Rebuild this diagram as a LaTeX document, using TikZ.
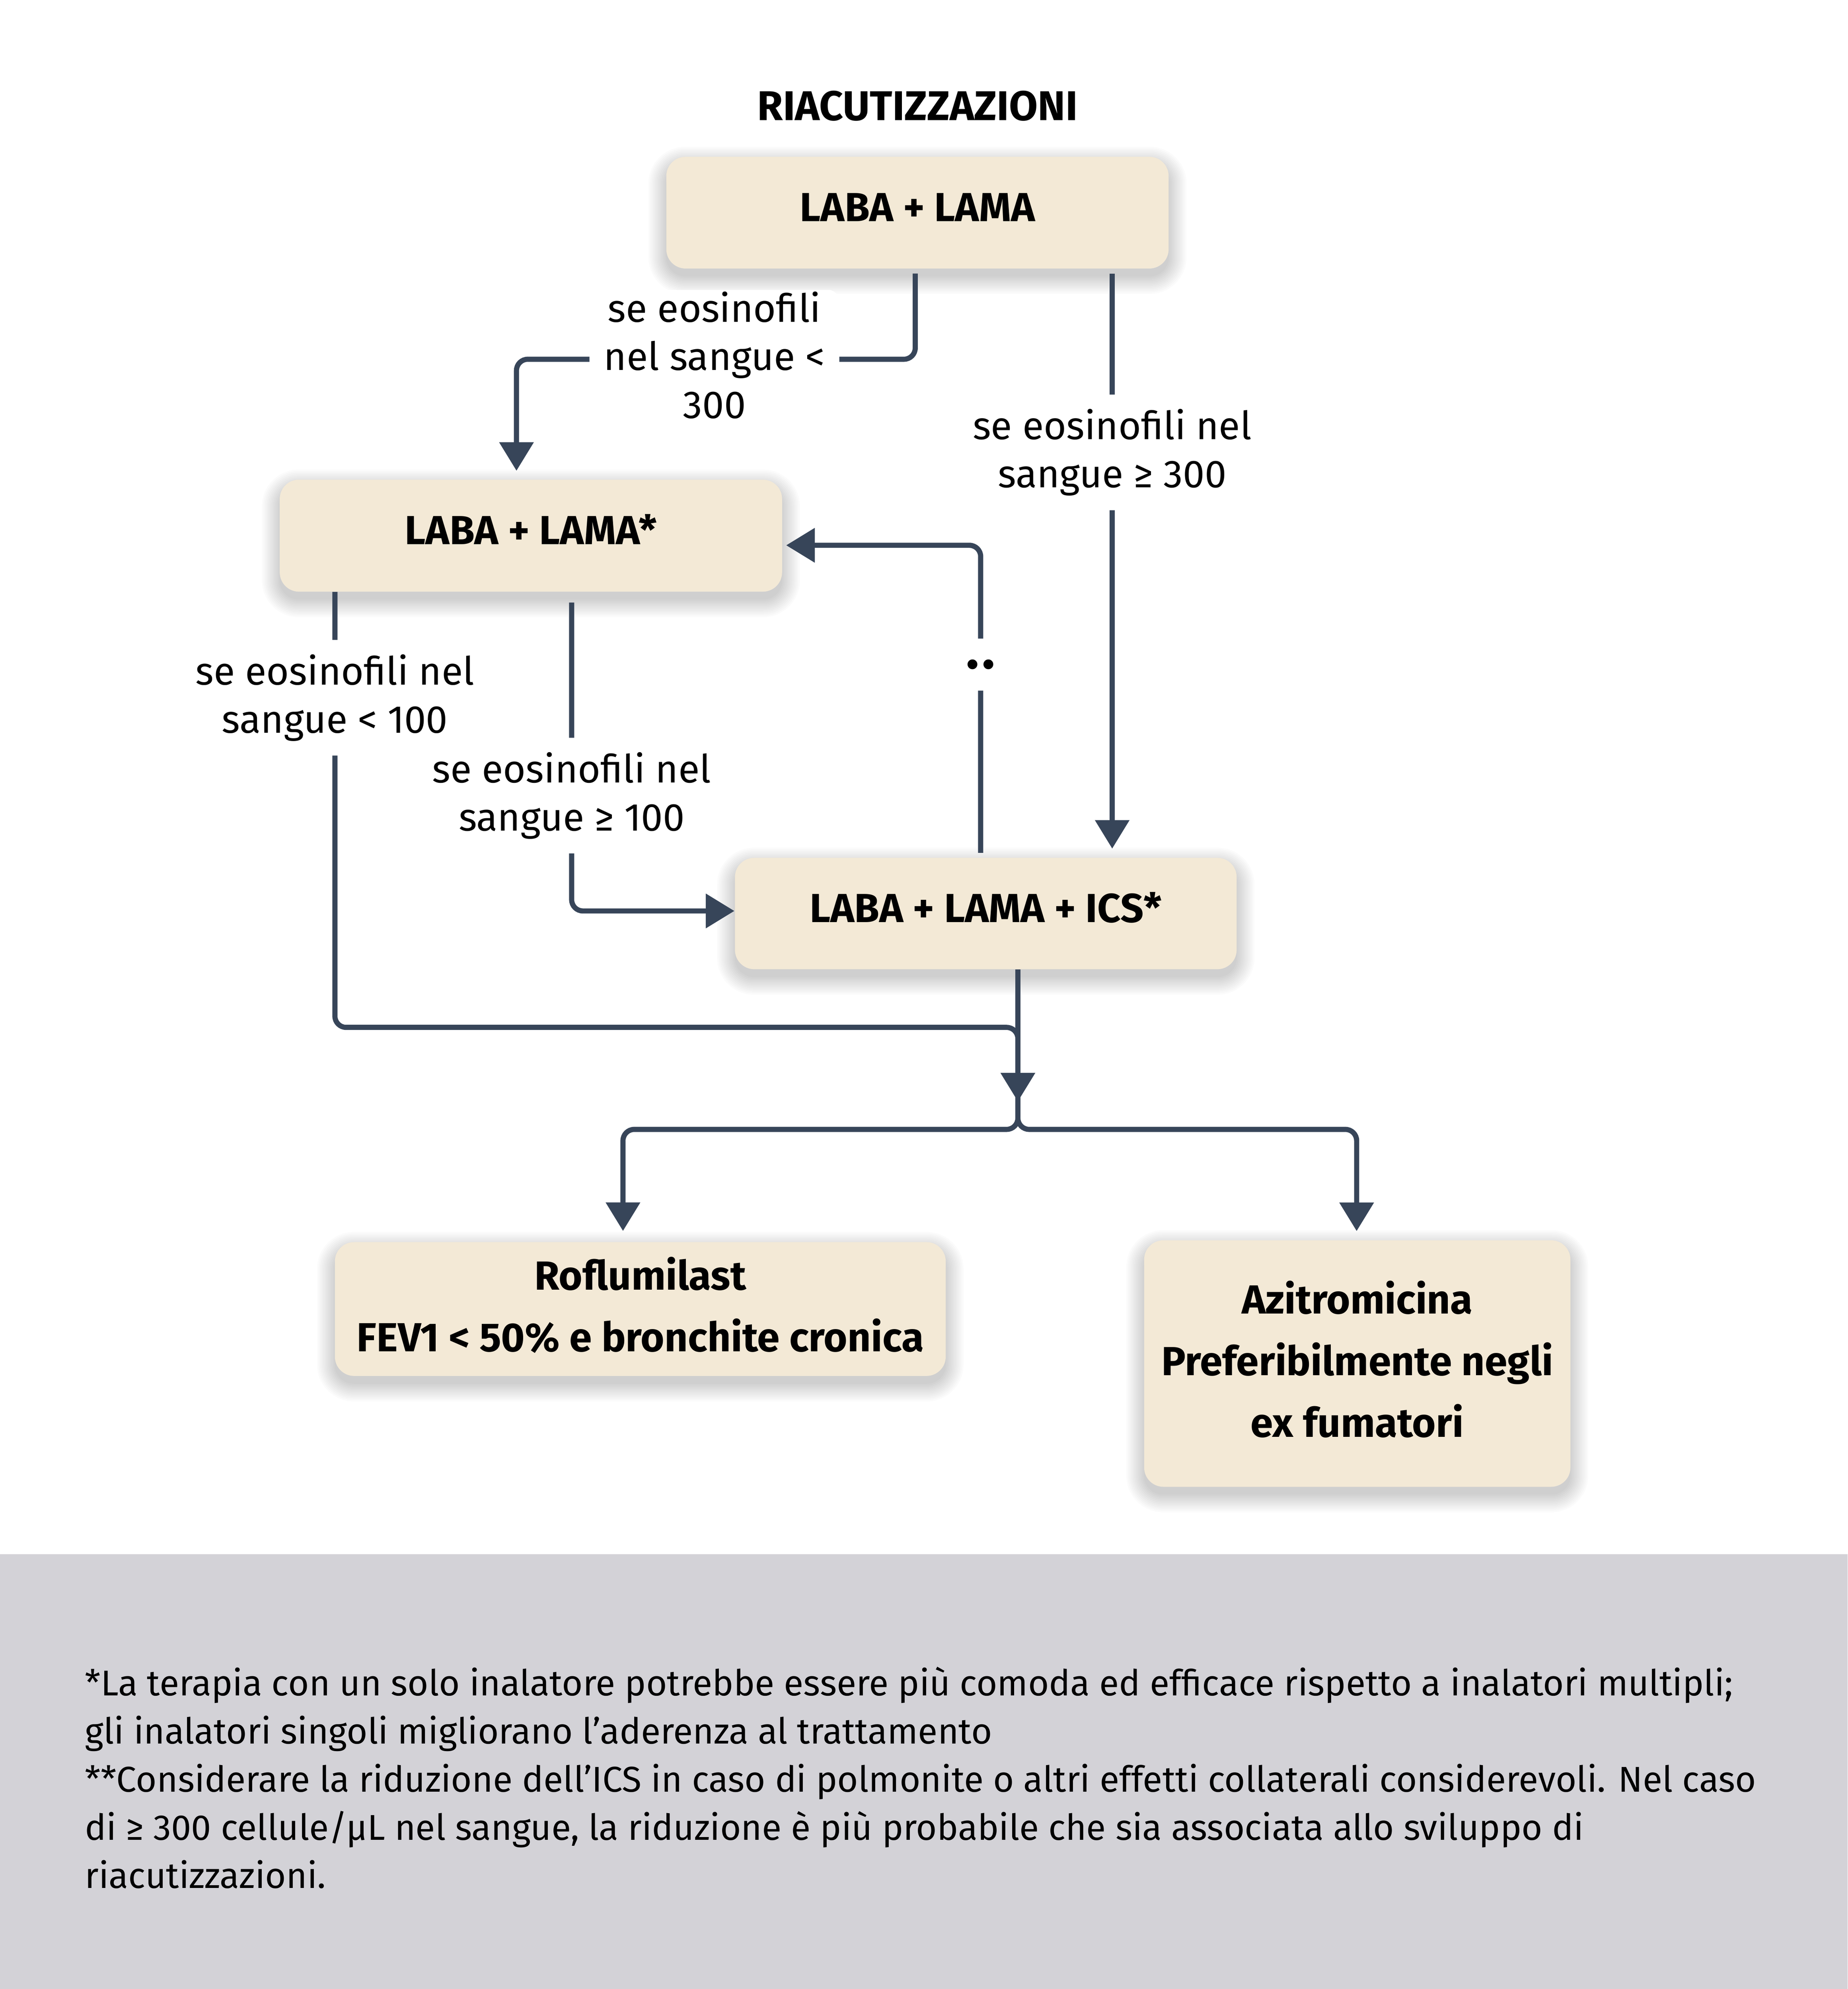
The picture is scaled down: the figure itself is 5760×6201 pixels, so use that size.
\documentclass[tikz,border=0pt]{standalone}
\usepackage{fontspec}
\setmainfont{Fira Sans}
\usetikzlibrary{arrows.meta,backgrounds,calc}
\definecolor{boxfill}{HTML}{F3E9D6}
\definecolor{linecol}{HTML}{374559}
\definecolor{footgrey}{HTML}{D3D2D7}
\newcommand\boxshadow[1]{%
  \foreach \k [evaluate=\k as \r using 6+0.5*\k] in {0,...,11}{%
    \fill[black,opacity=0.014,rounded corners=\r mm]
      ($(#1.north west)+(-5*\k,24-5*\k)$) rectangle ($(#1.south east)+(5*\k,24+5*\k)$);}}
\begin{document}
\begin{tikzpicture}[x=0.01cm,y=-0.01cm,
  box/.style={fill=boxfill,rounded corners=6mm,inner sep=0pt,align=center,
    font=\fontsize{36}{54.6}\selectfont\bfseries},
  onebox/.style={box,text height=8.4mm,text depth=3mm},
  multibox/.style={box,text depth=2.9mm},
  conn/.style={draw=linecol,line width=1.6mm,rounded corners=3.5mm},
  arr/.style={conn,-{Triangle[width=10.4mm,length=8.9mm]}},
  lbl/.style={fill=white,inner xsep=4.5mm,inner ysep=4.5mm,align=center,
    font=\fontsize{34.5}{42.7}\selectfont},
  dots/.style={fill=white,inner xsep=1mm,inner ysep=0pt,minimum height=16.2mm,
    font=\fontsize{48}{50}\selectfont\bfseries},
  foot/.style={anchor=base west,inner sep=0pt,font=\fontsize{31.8}{42.7}\selectfont},
]
\useasboundingbox (0,0) rectangle (5760,6201);
\begin{pgfonlayer}{background}
\fill[white] (0,0) rectangle (5760,6201);
\fill[footgrey] (0,4846) rectangle (5760,6201);
\end{pgfonlayer}

\node[anchor=base,inner sep=0pt,font=\fontsize{36.9}{42}\selectfont\bfseries] (title) at (2860,375) {RIACUTIZZAZIONI};

\node[onebox,minimum width=15.65cm,minimum height=3.48cm] (b1) at (2860,663) {LABA + LAMA};
\node[onebox,minimum width=15.65cm,minimum height=3.49cm] (b2) at (1655,1670) {LABA + LAMA*};
\node[onebox,minimum width=15.63cm,minimum height=3.47cm] (b3) at (3073,2848) {LABA + LAMA + ICS*};
\node[multibox,minimum width=19.03cm,minimum height=4.17cm] (b4) at (1996,4081) {Roflumilast\\FEV1 < 50\% e bronchite cronica};
\node[multibox,minimum width=13.28cm,minimum height=7.68cm] (b5) at (4231,4251) {Azitromicina\\Preferibilmente negli\\ex fumatori};

\begin{pgfonlayer}{background}
\boxshadow{b1}\boxshadow{b2}\boxshadow{b3}\boxshadow{b4}\boxshadow{b5}
\end{pgfonlayer}

\coordinate (m1) at (3173,3434);
\coordinate (m2) at (3173,3521);

\draw[arr] ($(b1.south)+(-7,15)$) |- (2227,1120) node[lbl,inner ysep=0.5mm,yshift=1.3mm]{se eosinofili\\nel sangue <\\300} -| ($(b2.north)+(-45,-27)$);
\draw[arr] ($(b1.south)+(607,15)$) -- node[lbl,pos=0.311]{se eosinofili nel\\sangue ≥ 300} ($(b3.north)+(394,-28)$);
\draw[arr] ($(b2.south)+(127,33)$) |- node[lbl,pos=0.313]{se eosinofili nel\\sangue ≥ 100} ($(b3.west)+(-1,-8)$);
\draw[arr] ($(b3.north)+(-16,-15)$) |- node[dots,pos=0.306]{.\hspace{0.9mm}.} ($(b2.east)+(12,30)$);
\draw[conn] ($(b2.south)+(-611,0)$) |- node[lbl,pos=0.1215]{se eosinofili nel\\sangue < 100} ($(m1)+(0,-231)$) -- (m1);
\draw[arr] ($(b3.south)+(100,0)$) -- (m1);
\draw[arr] ($(m1)+(0,-20)$) -- (m2) -| ($(b4.north)+(-54,-34)$);
\draw[arr] ($(m1)+(0,-20)$) -- (m2) -| ($(b5.north)+(-2,-28)$);

\node[foot] (f1) at (264,5286) {*La terapia con un solo inalatore potrebbe essere più comoda ed efficace rispetto a inalatori multipli;};
\node[foot] (f2) at (264,5436) {gli inalatori singoli migliorano l’aderenza al trattamento};
\node[foot] (f3) at (264,5586) {**Considerare la riduzione dell’ICS in caso di polmonite o altri effetti collaterali considerevoli. Nel caso};
\node[foot] (f4) at (264,5736) {di ≥ 300 cellule/µL nel sangue, la riduzione è più probabile che sia associata allo sviluppo di};
\node[foot] (f5) at (264,5886) {riacutizzazioni.};
\end{tikzpicture}
\end{document}
